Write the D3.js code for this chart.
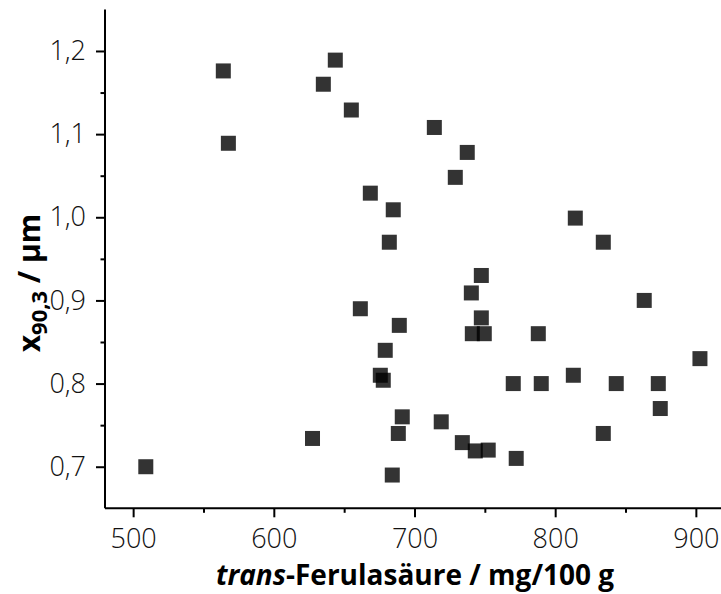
<!DOCTYPE html>
<html>
<head>
<meta charset="utf-8">
<script src="https://cdn.jsdelivr.net/npm/d3@7"></script>
<style>
  html, body { margin: 0; padding: 0; background: #fff; }
  svg { display: block; }
</style>
</head>
<body>
<svg id="chart" width="721" height="594"></svg>
<script>
// trans-ferulic acid content (mg/100 g) vs. particle size x90,3 (µm)
const ferulicAcid = [509, 564.1, 567.7, 627.5, 635.2, 643.7, 655.1, 661.5, 668.6, 675.7,
  677.8, 679.2, 682.1, 684.9, 684.2, 688.5, 689.2, 691.3, 714.1, 719.0,
  729, 734, 737.5, 740.4, 741.1, 743.2, 747.5, 747.5, 749.6, 752.4,
  770.2, 772.3, 788, 790.1, 812.9, 814.3, 834.2, 834.2, 843.4, 863.3,
  873.3, 874.7, 902.9];
const x903 = [0.70, 1.176, 1.089, 0.734, 1.16, 1.189, 1.129, 0.89, 1.029, 0.81,
  0.804, 0.84, 0.97, 1.009, 0.69, 0.74, 0.87, 0.76, 1.108, 0.754,
  1.048, 0.729, 1.078, 0.909, 0.86, 0.719, 0.93, 0.879, 0.86, 0.72,
  0.80, 0.71, 0.86, 0.80, 0.81, 0.999, 0.74, 0.97, 0.80, 0.90,
  0.80, 0.77, 0.83];

const xTicks = [500, 600, 700, 800, 900];
const xMinorTicks = [550, 650, 750, 850];
const yTicks = [0.7, 0.8, 0.9, 1.0, 1.1, 1.2];
const yMinorTicks = [0.75, 0.85, 0.95, 1.05, 1.15];

const svg = d3.select("#chart");
const plotLeft = 105, plotRight = 724, plotTop = 9.4, plotBottom = 508.3;

const x = d3.scaleLinear().domain([480, 920]).range([plotLeft, plotRight]);
const y = d3.scaleLinear().domain([0.65, 1.25]).range([plotBottom, plotTop]);

const fmt = d => d3.format(".1f")(d).replace(".", ",");

// axes
const gx = svg.append("g").attr("transform", `translate(0,${plotBottom})`);
gx.call(d3.axisBottom(x).tickValues(xTicks).tickSize(9).tickPadding(12).tickFormat(d3.format("d")));
const gxm = svg.append("g").attr("transform", `translate(0,${plotBottom})`);
gxm.call(d3.axisBottom(x).tickValues(xMinorTicks).tickSize(4.5).tickFormat(""));

const gy = svg.append("g").attr("transform", `translate(${plotLeft},0)`);
gy.call(d3.axisLeft(y).tickValues(yTicks).tickSize(9).tickPadding(10).tickFormat(fmt));
const gym = svg.append("g").attr("transform", `translate(${plotLeft},0)`);
gym.call(d3.axisLeft(y).tickValues(yMinorTicks).tickSize(4.5).tickFormat(""));

[gx, gxm, gy, gym].forEach(g => {
  g.selectAll(".domain").attr("stroke", "#000").attr("stroke-width", 2);
  g.selectAll(".tick line").attr("stroke", "#000").attr("stroke-width", 2);
  g.selectAll(".tick text")
    .attr("fill", "#111")
    .attr("font-family", "Open Sans, sans-serif")
    .attr("font-weight", 300)
    .attr("font-size", 27);
});
gxm.select(".domain").remove();
gym.select(".domain").remove();
gx.select(".domain").attr("d", `M${plotLeft},0H${plotRight}`);
gy.select(".domain").attr("d", `M0,${plotTop}V${plotBottom}`);

// markers
const s = 15;
svg.append("g")
  .selectAll("rect")
  .data(ferulicAcid.map((v, i) => [v, x903[i]]))
  .join("rect")
  .attr("x", d => x(d[0]) - s / 2)
  .attr("y", d => y(d[1]) - s / 2)
  .attr("width", s)
  .attr("height", s)
  .attr("fill", "#000")
  .attr("fill-opacity", 0.8);

// axis titles
const xt = svg.append("text")
  .attr("x", 415)
  .attr("y", 585)
  .attr("text-anchor", "middle")
  .attr("font-family", "Open Sans, sans-serif")
  .attr("font-weight", "bold")
  .attr("font-size", 28)
  .attr("fill", "#000");
xt.append("tspan").attr("font-style", "italic").text("trans");
xt.append("tspan").text("-Ferulasäure / mg/100 g");

const yt = svg.append("text")
  .attr("transform", "translate(40,283) rotate(-90)")
  .attr("text-anchor", "middle")
  .attr("font-family", "Open Sans, sans-serif")
  .attr("font-weight", "bold")
  .attr("font-size", 30)
  .attr("fill", "#000");
yt.append("tspan").text("x");
yt.append("tspan").attr("font-size", 22).attr("dy", 7).text("90,3");
yt.append("tspan").attr("dy", -7).text(" / µm");
</script>
</body>
</html>
